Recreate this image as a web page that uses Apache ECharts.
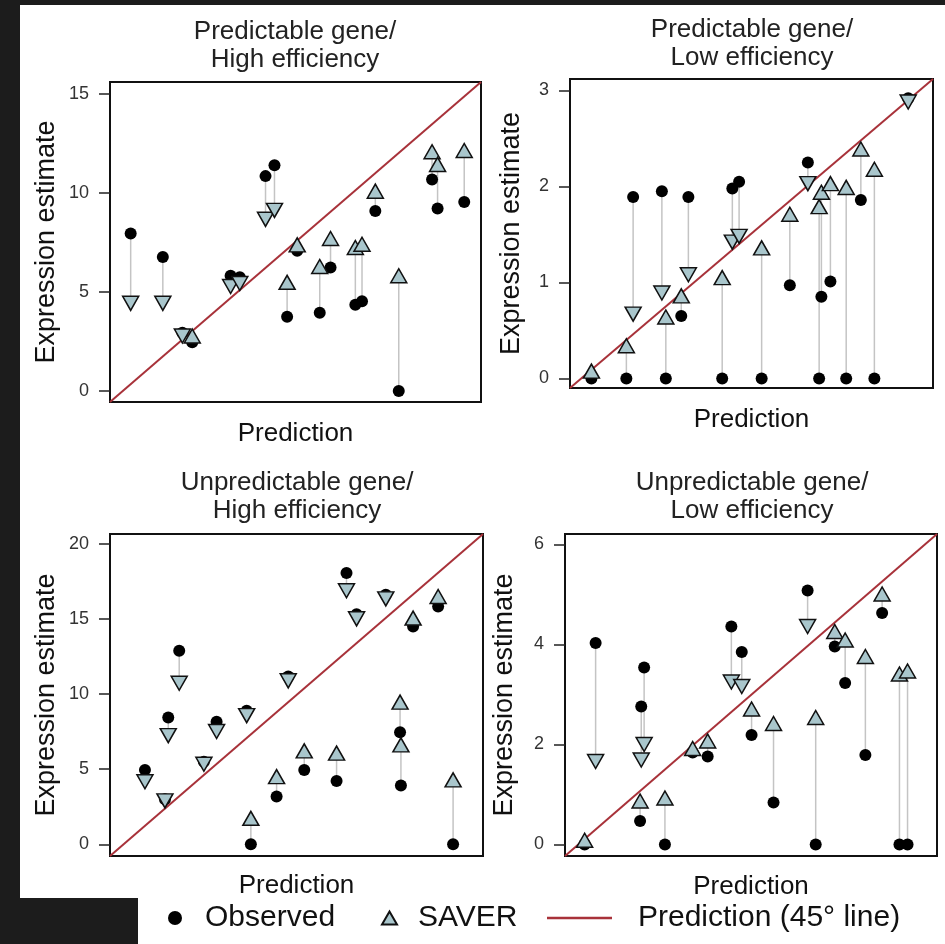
<!DOCTYPE html>
<html>
<head>
<meta charset="utf-8">
<title>SAVER estimates vs prediction</title>
<script src="https://cdn.jsdelivr.net/npm/echarts@6/dist/echarts.min.js"></script>
<style>
  html, body { margin: 0; padding: 0; background: #1c1c1c; }
  #chart { width: 945px; height: 944px; }
</style>
</head>
<body>
<div id="chart"></div>
<script>
// values read off the figure: prediction (x), observed value, SAVER estimate
// predictable gene / high efficiency
var pred1  = [0.35, 1.75, 2.6, 3.03, 4.7, 5.1, 6.22, 6.61, 7.16, 7.6, 8.58, 9.05, 10.13, 10.42, 11.0, 12.02, 13.47, 13.71, 14.87];
var obs1   = [7.95, 6.77, 2.95, 2.47, 5.82, 5.75, 10.85, 11.4, 3.75, 7.08, 3.96, 6.24, 4.36, 4.53, 9.09, 0, 10.68, 9.21, 9.54];
var saver1 = [4.43, 4.43, 2.78, 2.78, 5.28, 5.43, 8.67, 9.12, 5.49, 7.38, 6.29, 7.7, 7.25, 7.41, 10.09, 5.82, 12.08, 11.44, 12.14];

// predictable gene / low efficiency
var pred2  = [0.09, 0.4, 0.46, 0.715, 0.75, 0.887, 0.95, 1.25, 1.34, 1.4, 1.6, 1.85, 2.01, 2.11, 2.13, 2.21, 2.35, 2.48, 2.6, 2.9];
var obs2   = [0, 0, 1.89, 1.95, 0, 0.65, 1.89, 0, 1.98, 2.05, 0, 0.97, 2.25, 0, 0.85, 1.01, 0, 1.86, 0, 2.92];
var saver2 = [0.076, 0.34, 0.67, 0.89, 0.64, 0.86, 1.08, 1.05, 1.42, 1.48, 1.36, 1.71, 2.03, 1.79, 1.94, 2.03, 1.99, 2.39, 2.18, 2.88];

// unpredictable gene / high efficiency
var pred3  = [1.23, 2.38, 2.57, 3.2, 4.62, 5.35, 7.08, 7.32, 8.8, 9.47, 10.39, 12.25, 12.82, 13.4, 15.08, 15.9, 15.95, 16.65, 18.09, 18.95];
var obs3   = [4.95, 3.0, 8.44, 12.89, 5.5, 8.17, 8.89, 0, 3.18, 11.18, 4.95, 4.22, 18.07, 15.33, 16.62, 7.47, 3.91, 14.51, 15.84, 0];
var saver3 = [4.17, 2.89, 7.24, 10.73, 5.33, 7.51, 8.57, 1.73, 4.51, 10.89, 6.22, 6.07, 16.89, 15.02, 16.35, 9.47, 6.62, 15.07, 16.51, 4.29];

// unpredictable gene / low efficiency
var pred4  = [0.11, 0.3, 1.07, 1.09, 1.14, 1.5, 1.98, 2.24, 2.65, 2.83, 3.0, 3.38, 3.97, 4.11, 4.44, 4.62, 4.97, 5.26, 5.56, 5.7];
var obs4   = [0, 4.03, 0.47, 2.76, 3.54, 0, 1.84, 1.76, 4.36, 3.85, 2.19, 0.84, 5.08, 0, 3.96, 3.23, 1.79, 4.63, 0, 0];
var saver4 = [0.086, 1.66, 0.87, 1.69, 2.0, 0.93, 1.92, 2.07, 3.25, 3.16, 2.71, 2.42, 4.36, 2.54, 4.26, 4.09, 3.76, 5.01, 3.41, 3.47];

var yTicks1 = [0, 5, 10, 15];
var yTicks2 = [0, 1, 2, 3];
var yTicks3 = [0, 5, 10, 15, 20];
var yTicks4 = [0, 2, 4, 6];

// axis limits (same on x and y, so the 45 degree line runs corner to corner)
var range1 = [-0.55, 15.6];
var range2 = [-0.1, 3.12];
var range3 = [-0.78, 20.67];
var range4 = [-0.23, 6.21];

var titles = [
  'Predictable gene/\nHigh efficiency',
  'Predictable gene/\nLow efficiency',
  'Unpredictable gene/\nHigh efficiency',
  'Unpredictable gene/\nLow efficiency'
];

var FONT = "'Liberation Sans', Arial, sans-serif";
var RED = '#a8323a';
var TRI = '#a9c6cc';

var panels = [
  { pred: pred1, obs: obs1, saver: saver1, ticks: yTicks1, range: range1 },
  { pred: pred2, obs: obs2, saver: saver2, ticks: yTicks2, range: range2 },
  { pred: pred3, obs: obs3, saver: saver3, ticks: yTicks3, range: range3 },
  { pred: pred4, obs: obs4, saver: saver4, ticks: yTicks4, range: range4 }
];

var gridBoxes = [
  { left: 110, top: 82, width: 371, height: 320 },
  { left: 570, top: 79, width: 363, height: 309 },
  { left: 110, top: 534, width: 373, height: 322 },
  { left: 565, top: 534, width: 372, height: 322 }
];
var titlePos = [[295, 18], [752, 16], [297, 469], [752, 469]];
var yNameGap = [50, 45, 50, 47];
var xNameGap = [19, 19, 17, 18];

var grid = [], xAxis = [], yAxis = [], series = [], title = [];

panels.forEach(function (p, i) {
  grid.push(Object.assign({ show: true, borderColor: '#111', borderWidth: 2, backgroundColor: 'transparent' }, gridBoxes[i]));

  title.push({
    text: titles[i],
    left: titlePos[i][0],
    top: titlePos[i][1],
    textAlign: 'center',
    padding: 0,
    textStyle: { fontFamily: FONT, fontSize: 26, fontWeight: 'normal', color: '#222', lineHeight: 28 }
  });

  xAxis.push({
    gridIndex: i,
    type: 'value',
    position: 'bottom',
    min: p.range[0],
    max: p.range[1],
    axisLine: { show: false, onZero: false },
    axisTick: { show: false },
    axisLabel: { show: false },
    splitLine: { show: false },
    name: 'Prediction',
    nameLocation: 'middle',
    nameGap: xNameGap[i],
    nameTextStyle: { fontFamily: FONT, fontSize: 26, color: '#111' }
  });

  yAxis.push({
    gridIndex: i,
    type: 'value',
    position: 'left',
    min: p.range[0],
    max: p.range[1],
    axisLine: { show: false, onZero: false },
    splitLine: { show: false },
    axisTick: { show: true, length: 11, customValues: p.ticks, lineStyle: { color: '#222', width: 1.5 } },
    axisLabel: { customValues: p.ticks, fontFamily: FONT, fontSize: 18, color: '#333', margin: 21 },
    name: 'Expression estimate',
    nameLocation: 'middle',
    nameGap: yNameGap[i],
    nameTextStyle: { fontFamily: FONT, fontSize: 27, color: '#111' }
  });

  // thin grey segment joining observed and SAVER for each gene
  series.push({
    type: 'custom',
    name: 'pairs',
    xAxisIndex: i,
    yAxisIndex: i,
    silent: true,
    z: 1,
    encode: { x: 0, y: [1, 2] },
    data: p.pred.map(function (x, k) { return [x, p.obs[k], p.saver[k]]; }),
    renderItem: function (params, api) {
      var a = api.coord([api.value(0), api.value(1)]);
      var b = api.coord([api.value(0), api.value(2)]);
      return {
        type: 'line',
        shape: { x1: a[0], y1: a[1], x2: b[0], y2: b[1] },
        style: { stroke: '#c4c4c4', lineWidth: 1.5 }
      };
    }
  });

  series.push({
    type: 'line',
    name: 'Prediction (45° line)',
    xAxisIndex: i,
    yAxisIndex: i,
    symbol: 'none',
    z: 2,
    lineStyle: { color: RED, width: 2 },
    itemStyle: { color: RED },
    data: [[p.range[0], p.range[0]], [p.range[1], p.range[1]]]
  });

  series.push({
    type: 'scatter',
    name: 'Observed',
    xAxisIndex: i,
    yAxisIndex: i,
    symbol: 'circle',
    symbolSize: 12,
    z: 3,
    itemStyle: { color: '#000', opacity: 1 },
    data: p.pred.map(function (x, k) { return [x, p.obs[k]]; })
  });

  series.push({
    type: 'scatter',
    name: 'SAVER',
    xAxisIndex: i,
    yAxisIndex: i,
    symbol: 'triangle',
    symbolSize: [16, 14],
    // points down when SAVER is below the observed value
    symbolRotate: function (v) { return v[1] < v[2] ? 180 : 0; },
    z: 4,
    encode: { x: 0, y: 1 },
    itemStyle: { color: TRI, borderColor: '#111', borderWidth: 1.5, opacity: 1 },
    data: p.pred.map(function (x, k) { return [x, p.saver[k], p.obs[k]]; })
  });
});

var legendText = { fontFamily: FONT, fontSize: 30, color: '#111' };

var option = {
  backgroundColor: '#fff',
  animation: false,
  title: title,
  grid: grid,
  xAxis: xAxis,
  yAxis: yAxis,
  legend: [
    {
      data: [{ name: 'Observed', icon: 'circle' }],
      left: 168, top: 903, padding: 0, symbolRotate: 0,
      itemWidth: 14, itemHeight: 14, selectedMode: false,
      textStyle: Object.assign({ padding: [0, 0, 0, 18] }, legendText)
    },
    {
      data: [{ name: 'SAVER', icon: 'triangle' }],
      left: 381, top: 903, padding: 0, symbolRotate: 0,
      itemWidth: 15, itemHeight: 13, selectedMode: false,
      textStyle: Object.assign({ padding: [0, 0, 0, 16] }, legendText)
    },
    {
      data: [{ name: 'Prediction (45° line)', icon: 'rect', itemStyle: { color: RED } }],
      left: 547, top: 903, padding: 0,
      itemWidth: 65, itemHeight: 2.5, selectedMode: false,
      textStyle: Object.assign({ padding: [0, 0, 0, 21] }, legendText)
    }
  ],
  graphic: [
    { type: 'rect', left: 0, top: 0, shape: { width: 945, height: 5 }, style: { fill: '#1c1c1c' } },
    { type: 'rect', left: 0, top: 0, shape: { width: 20, height: 944 }, style: { fill: '#1c1c1c' } },
    { type: 'rect', left: 0, top: 898, shape: { width: 138, height: 46 }, style: { fill: '#1c1c1c' } }
  ],
  series: series
};

var chart = echarts.init(document.getElementById('chart'));
chart.setOption(option);
</script>
</body>
</html>
